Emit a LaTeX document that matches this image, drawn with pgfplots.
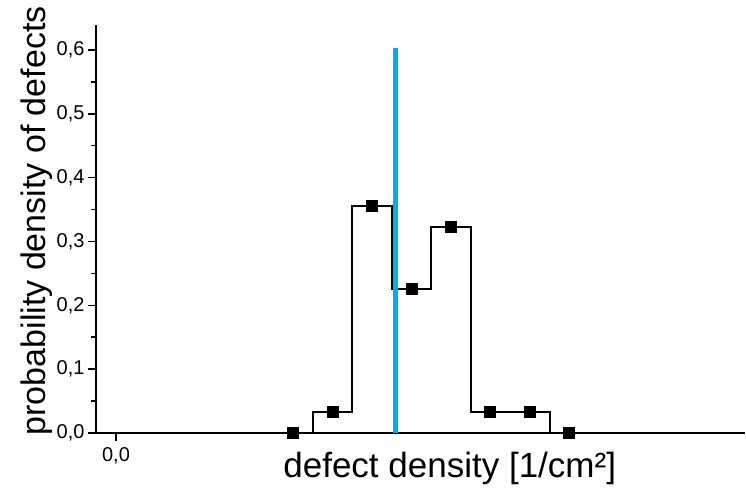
\documentclass[border=0pt]{standalone}
\usepackage{pgfplots}
\pgfplotsset{compat=1.18}
\usepackage{fontspec}
\setmainfont{Liberation Sans}
\definecolor{vline}{RGB}{0,174,239}
\begin{document}
\begin{tikzpicture}
\path[use as bounding box] (-96pt,-63pt) rectangle (650pt,433pt);
\begin{axis}[
  scale only axis,
  width=649pt, height=408pt,
  xmin=-0.508, xmax=15.96,
  ymin=0, ymax=0.639,
  axis x line*=bottom, axis y line*=left,
  axis line style={line width=1.8pt},
  tick align=outside,
  major tick length=8pt, minor tick length=5pt,
  every tick/.style={line width=1.5pt, black},
  xtick={0},
  ytick={0,0.1,...,0.6},
  minor y tick num=1,
  /pgf/number format/fixed, /pgf/number format/fixed zerofill,
  /pgf/number format/precision=1, /pgf/number format/use comma,
  /pgf/number format/assume math mode=true,
  tick label style={font=\fontsize{20}{22}\selectfont},
  yticklabel style={xshift=0pt},
  xticklabel style={yshift=-3pt},
  xlabel={defect density [1/cm²]},
  ylabel={probability density of defects},
  xlabel style={at={(axis description cs:0.545,-0.088)}, anchor=center, font=\fontsize{35}{36}\selectfont},
  ylabel style={at={(axis description cs:-0.091,0.52)}, anchor=center, font=\fontsize{34}{36}\selectfont},
  clip=false,
]
\addplot[const plot mark mid, black, line width=2pt, mark=square*, mark size=5pt, mark options={solid, fill=black}]
 coordinates {(4.5,0) (5.5,0.033) (6.5,0.355) (7.5,0.226) (8.5,0.323) (9.5,0.033) (10.5,0.033) (11.5,0)};
\addplot[vline, line width=5pt] coordinates {(7.08,0) (7.08,0.603)};
\end{axis}
\end{tikzpicture}
\end{document}
